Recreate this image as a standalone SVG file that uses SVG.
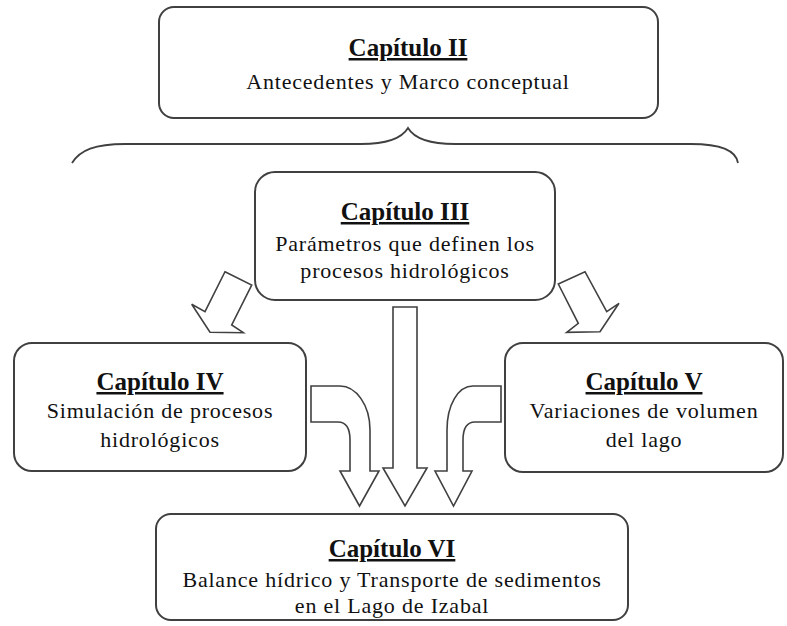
<svg xmlns="http://www.w3.org/2000/svg" width="787" height="626" viewBox="0 0 787 626">
<style>
.box{fill:#fff;stroke:#404040;stroke-width:2}
.arr{fill:#fff;stroke:#404040;stroke-width:1.6;stroke-linejoin:miter}
.brace{fill:none;stroke:#404040;stroke-width:1.8}
.t{font-family:"Liberation Serif","Times New Roman",serif;font-size:25px;font-weight:bold;text-anchor:middle;text-decoration:underline;fill:#111}
.b{font-family:"Liberation Serif","Times New Roman",serif;font-size:22px;letter-spacing:0.8px;text-anchor:middle;fill:#111}
</style>
<rect width="787" height="626" fill="#fff"/>
<g id="cap2">
<rect class="box" x="159" y="7" width="499" height="111" rx="15"/>
<text class="t" x="408" y="56">Capítulo II</text>
<text class="b" x="408" y="89">Antecedentes y Marco conceptual</text>
</g>
<g id="brace">
<path class="brace" d="M72,163 C80,150 95,144 125,144 L361,144 C388,144 402,138 408,128 C414,138 428,144 455,144 L691,144 C721,144 736,150 738,163"/>
</g>
<g id="cap3">
<rect class="box" x="255" y="172" width="300" height="128" rx="20"/>
<text class="t" x="405" y="220">Capítulo III</text>
<text class="b" x="405" y="251">Parámetros que definen los</text>
<text class="b" x="405" y="278">procesos hidrológicos</text>
</g>
<g id="cap4">
<rect class="box" x="14" y="343" width="292" height="128" rx="18"/>
<text class="t" x="160" y="390">Capítulo IV</text>
<text class="b" x="160" y="418">Simulación de procesos</text>
<text class="b" x="160" y="447">hidrológicos</text>
</g>
<g id="cap5">
<rect class="box" x="505" y="343" width="278" height="129" rx="18"/>
<text class="t" x="644" y="390">Capítulo V</text>
<text class="b" x="644" y="418">Variaciones de volumen</text>
<text class="b" x="644" y="447">del lago</text>
</g>
<g id="cap6">
<rect class="box" x="156" y="514" width="472" height="106" rx="15"/>
<text class="t" x="392" y="557">Capítulo VI</text>
<text class="b" x="392" y="587">Balance hídrico y Transporte de sedimentos</text>
<text class="b" x="392" y="613">en el Lago de Izabal</text>
</g>
<g id="connectors">
<path class="arr" d="M225,271.7 L251.7,285 L231.7,325 L243.3,332.7 L210,332.3 L191.7,304.3 L205,311.7 Z"/>
<path class="arr" d="M558.3,284 L585,271.7 L606.7,311.7 L619,303.3 L600,331.7 L566.7,332.3 L578.3,323.3 Z"/>
<path class="arr" d="M393,307 L417,307 L417,468 L427,468 L405,506 L383,468 L393,468 Z"/>
<path class="arr" d="M311,386 L340,386 C356,386 370,405 370,430 L370,471 L379,471 L359.5,506 L340,471 L350,471 L350,440 C350,428 346,422 338,422 L311,422 Z"/>
<path class="arr" d="M501,386 L473,386 C458,386 447,405 447,430 L447,471 L435,471 L453.5,506 L472,471 L463,471 L463,440 C463,428 467,422 475,422 L501,422 Z"/>
</g>
</svg>
